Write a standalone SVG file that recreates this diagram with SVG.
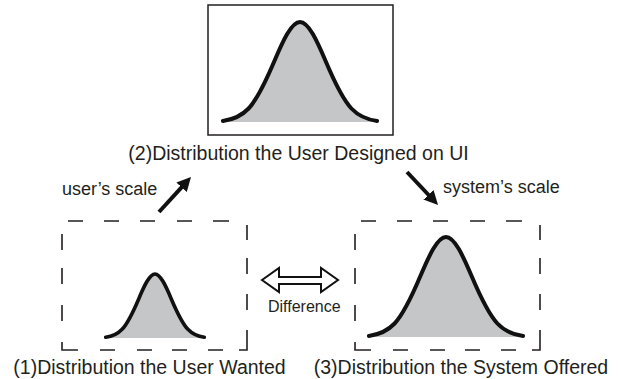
<svg xmlns="http://www.w3.org/2000/svg" width="621" height="379" viewBox="0 0 621 379">
<style>
text{font-family:"Liberation Sans",Arial,sans-serif;fill:#231f20}
.lbl{font-size:19.5px}
.sc{font-size:18px}
.dif{font-size:16px}
.fill{fill:#c5c6c8;stroke:none}
.curve{fill:none;stroke:#111;stroke-width:4;stroke-linecap:round;stroke-linejoin:round}
.dash{fill:none;stroke:#231f20;stroke-width:1.6}
.arr{stroke:#111;stroke-width:4}
</style>
<defs>
<marker id="ah" viewBox="0 0 14 14" refX="3" refY="7" markerWidth="14" markerHeight="14" markerUnits="userSpaceOnUse" orient="auto">
<path d="M0,0 L14,7 L0,14 z" fill="#111"/>
</marker>
<path id="dbox" d="M68,221H83 M104,221H119 M140,221H155 M177,221H192 M213,221H229 M62,234V250 M62,268V284 M62,305V321 M62,342V350H78 M100,350H115 M137,350H152 M172,350H187 M208,350H223 M239,350H247V330 M247,225V240 M247,258V274 M247,294V310"/>
</defs>
<g id="node2">
<rect x="208" y="5" width="185" height="130" fill="#fff" stroke="#231f20" stroke-width="1.5"/>
<path class="fill" d="M222.9,120.9 C231.5,119.8 240,117.5 248.6,108.5 C257.2,99.4 265.7,81.6 274.3,61.3 C282.9,41.1 291.4,22 300,22 C308.6,22 317.1,41.1 325.7,61.3 C334.3,81.6 342.8,99.4 351.4,108.5 C360,117.5 368.5,119.8 377.1,120.9 L377.1,122 L222.9,122 Z"/>
<path class="curve" d="M222.9,120.9 C231.5,119.8 240,117.5 248.6,108.5 C257.2,99.4 265.7,81.6 274.3,61.3 C282.9,41.1 291.4,22 300,22 C308.6,22 317.1,41.1 325.7,61.3 C334.3,81.6 342.8,99.4 351.4,108.5 C360,117.5 368.5,119.8 377.1,120.9"/>
<text class="lbl" x="298.5" y="160" text-anchor="middle">(2)Distribution the User Designed on UI</text>
</g>
<g id="node1">
<use href="#dbox" class="dash"/>
<path class="fill" d="M105.7,337.3 C111.1,336.6 116.6,335.1 122.1,329.3 C127.6,323.6 133.1,312.1 138.6,299.2 C144,286.2 149.5,274 155,274 C160.5,274 166,286.2 171.4,299.2 C176.9,312.1 182.4,323.6 187.9,329.3 C193.4,335.1 198.9,336.6 204.3,337.3 L204.3,338 L105.7,338 Z"/>
<path class="curve" style="stroke-width:3.6" d="M105.7,337.3 C111.1,336.6 116.6,335.1 122.1,329.3 C127.6,323.6 133.1,312.1 138.6,299.2 C144,286.2 149.5,274 155,274 C160.5,274 166,286.2 171.4,299.2 C176.9,312.1 182.4,323.6 187.9,329.3 C193.4,335.1 198.9,336.6 204.3,337.3"/>
<text class="lbl" x="149.5" y="374" text-anchor="middle">(1)Distribution the User Wanted</text>
</g>
<g id="node3">
<use href="#dbox" class="dash" transform="translate(293,0)"/>
<path class="fill" d="M368.9,335.9 C377.5,334.8 386,332.5 394.6,323.5 C403.2,314.4 411.7,296.6 420.3,276.3 C428.9,256.1 437.4,237 446,237 C454.6,237 463.1,256.1 471.7,276.3 C480.3,296.6 488.8,314.4 497.4,323.5 C506,332.5 514.5,334.8 523.1,335.9 L523.1,337 L368.9,337 Z"/>
<path class="curve" d="M368.9,335.9 C377.5,334.8 386,332.5 394.6,323.5 C403.2,314.4 411.7,296.6 420.3,276.3 C428.9,256.1 437.4,237 446,237 C454.6,237 463.1,256.1 471.7,276.3 C480.3,296.6 488.8,314.4 497.4,323.5 C506,332.5 514.5,334.8 523.1,335.9"/>
<text class="lbl" x="461" y="374" text-anchor="middle">(3)Distribution the System Offered</text>
</g>
<g id="connectors">
<line class="arr" x1="159" y1="212" x2="183.6" y2="185.1" marker-end="url(#ah)"/>
<text class="sc" x="62" y="195">user’s scale</text>
<line class="arr" x1="407" y1="172" x2="430.5" y2="197" marker-end="url(#ah)"/>
<text class="sc" x="443" y="193">system’s scale</text>
<path d="M262,280 L279,268 L279,277 L321,277 L321,268 L338,280 L321,292 L321,284 L279,284 L279,292 Z" fill="#fff" stroke="#111" stroke-width="2" stroke-linejoin="miter"/>
<text class="dif" x="268" y="312">Difference</text>
</g>
</svg>
